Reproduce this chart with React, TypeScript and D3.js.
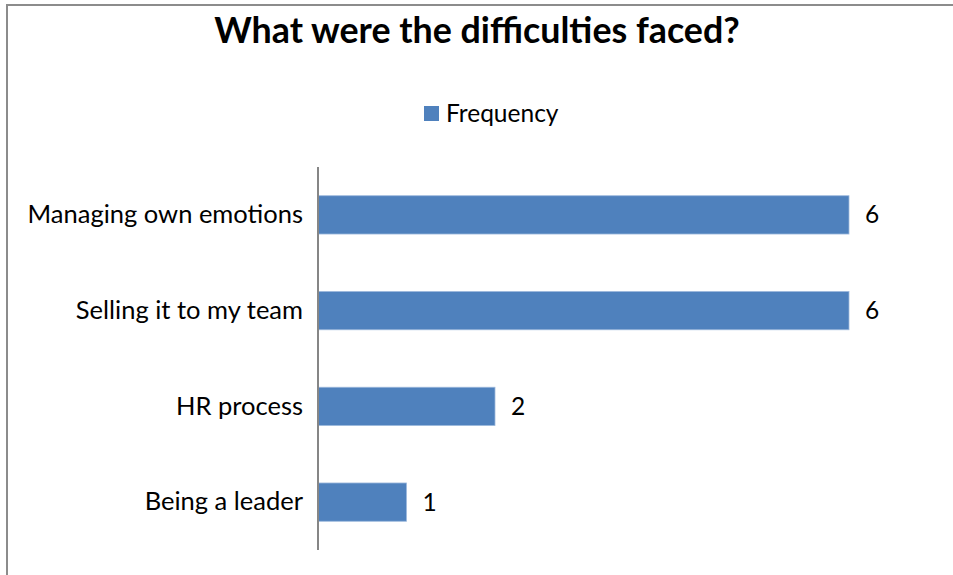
import { useEffect, useRef } from "react";
import * as d3 from "d3";

const categories = ["Managing own emotions", "Selling it to my team", "HR process", "Being a leader"];
const values = [6, 6, 2, 1];
const seriesName = "Frequency";
const title = "What were the difficulties faced?";

export default function App() {
    const svgRef = useRef<SVGSVGElement | null>(null);
    const W = 953;
    const H = 575;
    const font = "Lato, 'Open Sans', sans-serif";

    useEffect(() => {
        const svg = d3.select(svgRef.current);
        svg.selectAll("*").remove();

        // chart frame: only left and top edges show in the picture
        svg.append("path")
            .attr("d", `M7,${H}V5H${W}`)
            .attr("fill", "none")
            .attr("stroke", "#8c8c8c")
            .attr("stroke-width", 2);

        const x0 = 318;
        const xScale = d3.scaleLinear().domain([0, 6]).range([x0, 849]);
        const yScale = d3.scaleBand<string>()
            .domain(categories)
            .range([167, 550])
            .paddingInner(0.6)
            .paddingOuter(0.3);

        svg.append("text")
            .attr("x", 477)
            .attr("y", 43)
            .attr("text-anchor", "middle")
            .style("font-family", font)
            .style("font-weight", "bold")
            .style("font-size", "35.8px")
            .text(title);

        // legend
        svg.append("rect")
            .attr("x", 424)
            .attr("y", 106)
            .attr("width", 15)
            .attr("height", 15)
            .attr("fill", "#4F81BD");
        svg.append("text")
            .attr("x", 446)
            .attr("y", 122)
            .style("font-family", font)
            .style("font-size", "24.5px")
            .text(seriesName);

        svg.selectAll(".bar")
            .data(values)
            .enter()
            .append("rect")
            .attr("class", "bar")
            .attr("x", x0)
            .attr("y", (_d, i) => yScale(categories[i])!)
            .attr("width", (d) => xScale(d) - x0)
            .attr("height", yScale.bandwidth())
            .attr("fill", "#4F81BD")
            .attr("stroke", "#9DB9DD")
            .attr("stroke-width", 0.8);

        svg.selectAll(".val")
            .data(values)
            .enter()
            .append("text")
            .attr("class", "val")
            .attr("x", (d) => xScale(d) + 16)
            .attr("y", (_d, i) => yScale(categories[i])! + yScale.bandwidth() / 2)
            .attr("dy", "0.35em")
            .style("font-family", font)
            .style("font-size", "24.5px")
            .text((d) => d);

        const axis = svg.append("g")
            .attr("transform", `translate(${x0},0)`)
            .call(d3.axisLeft(yScale).tickSize(0).tickPadding(15));
        axis.select(".domain")
            .attr("stroke", "#868686")
            .attr("stroke-width", 2)
            .attr("d", `M0,167V550`);
        axis.selectAll("text")
            .style("font-family", font)
            .style("font-size", "25.5px")
            .attr("fill", "black");
    }, []);

    return (
        <svg ref={svgRef} width={W} height={H} style={{ position: "absolute", left: 0, top: 0, display: "block" }} />
    );
}
